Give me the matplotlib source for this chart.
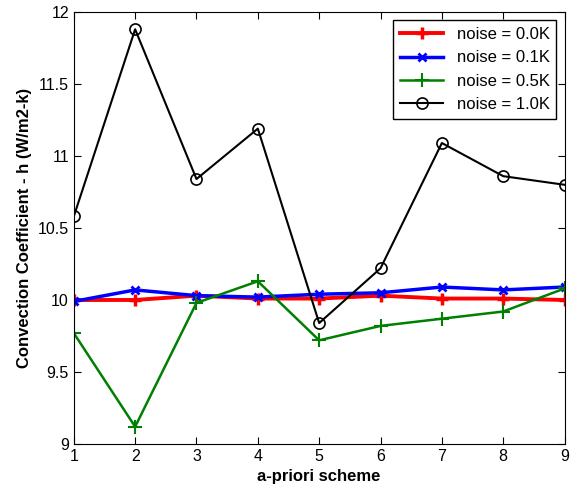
import matplotlib
matplotlib.use("Agg")
import matplotlib.pyplot as plt

scheme = [1, 2, 3, 4, 5, 6, 7, 8, 9]
noise_00 = [10.00, 10.00, 10.03, 10.01, 10.01, 10.03, 10.01, 10.01, 10.00]
noise_01 = [9.99, 10.07, 10.03, 10.02, 10.04, 10.05, 10.09, 10.07, 10.09]
noise_05 = [9.77, 9.12, 9.98, 10.13, 9.72, 9.82, 9.87, 9.92, 10.08]
noise_10 = [10.58, 11.88, 10.84, 11.19, 9.84, 10.22, 11.09, 10.86, 10.80]

plt.rcParams['font.family'] = ['Liberation Sans', 'DejaVu Sans']

fig = plt.figure(figsize=(5.72, 4.92), dpi=100)
ax = fig.add_axes([0.129, 0.0976, 0.858, 0.878])

ax.plot(scheme, noise_00, color='red', lw=2.8, marker='+', ms=9, mew=2.5, label='noise = 0.0K')
ax.plot(scheme, noise_01, color='blue', lw=2.5, marker='x', ms=6, mew=2, label='noise = 0.1K')
ax.plot(scheme, noise_05, color='green', lw=1.8, marker='+', ms=10, mew=1.5, label='noise = 0.5K')
ax.plot(scheme, noise_10, color='black', lw=1.5, marker='o', ms=8, mfc='none', mew=1.2, label='noise = 1.0K')

ax.set_xlim(1, 9)
ax.set_ylim(9, 12)
ax.set_xticks(scheme)
ax.set_yticks([9, 9.5, 10, 10.5, 11, 11.5, 12])
ax.set_yticklabels(['9', '9.5', '10', '10.5', '11', '11.5', '12'])
ax.tick_params(direction='in', top=True, right=True, labelsize=11.5, length=5)
ax.set_xlabel('a-priori scheme', fontsize=12, fontweight='bold')
ax.set_ylabel('Convection Coefficient - h (W/m2-k)', fontsize=12, fontweight='bold')

leg = ax.legend(loc='upper right', fontsize=12, fancybox=False, edgecolor='black',
                framealpha=1, borderaxespad=0.5, handlelength=2.6)
leg.get_frame().set_linewidth(1.0)

fig.savefig('out.png', dpi=100)
